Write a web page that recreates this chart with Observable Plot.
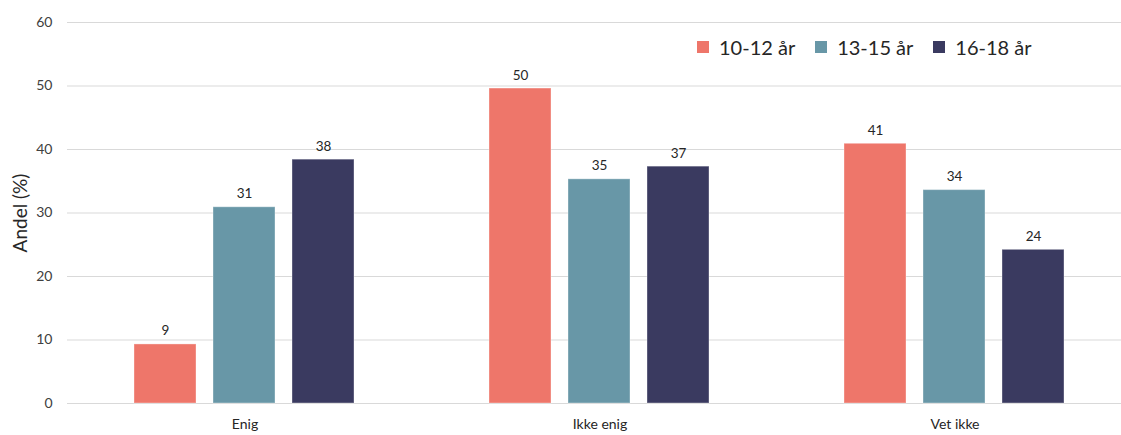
<!DOCTYPE html>
<html>
<head>
<meta charset="utf-8">
<script src="https://cdn.jsdelivr.net/npm/d3@7"></script>
<script src="https://cdn.jsdelivr.net/npm/@observablehq/plot@0.6"></script>
<style>
  html, body { margin: 0; padding: 0; background: #fff; overflow: hidden; }
  #wrap { position: relative; width: 1121px; height: 435px; }
  #legend { position: absolute; left: 697px; top: 30px; }
</style>
</head>
<body>
<div id="wrap"><div id="legend"></div></div>
<script>
const categories = ["Enig", "Ikke enig", "Vet ikke"];
const series = ["10-12 år", "13-15 år", "16-18 år"];
const colors = ["#EE766A", "#6897A7", "#3A3A60"];
const values = {
  "10-12 år": [9.3, 49.6, 40.9],
  "13-15 år": [30.9, 35.3, 33.6],
  "16-18 år": [38.4, 37.3, 24.2]
};
const yTicks = [0, 10, 20, 30, 40, 50, 60];
const yLabel = "Andel (%)";

const data = [];
categories.forEach((c, i) => {
  series.forEach(s => data.push({category: c, series: s, value: values[s][i]}));
});

const font = "Lato, 'Open Sans', sans-serif";

const chart = Plot.plot({
  width: 1121,
  height: 435,
  marginLeft: 67,
  marginRight: 0,
  marginTop: 22,
  marginBottom: 32,
  style: {fontFamily: font, fontSize: "13px", color: "#404040", background: "white", overflow: "hidden"},
  fx: {domain: categories, range: [67, 1132], padding: 0, label: null},
  x: {domain: series, paddingInner: 0.215, paddingOuter: 0.854, axis: null},
  y: {domain: [0, 60], ticks: yTicks, label: null},
  color: {domain: series, range: colors},
  marks: [
    Plot.gridY(yTicks, {stroke: "#d9d9d9", strokeOpacity: 1}),
    Plot.axisY(yTicks, {tickSize: 0, tickPadding: 15, fontSize: 14, fill: "#404040", label: null}),
    Plot.axisFx({anchor: "bottom", tickSize: 0, tickPadding: 16, fontSize: 14, fill: "#262626", label: null}),
    Plot.barY(data, {fx: "category", x: "series", y: "value", fill: "series", stroke: "#ffffff", strokeOpacity: 0.35, strokeWidth: 1}),
    Plot.text(data, {fx: "category", x: "series", y: "value", text: d => d3.format(".0f")(d.value), dy: -9, lineAnchor: "bottom", fontSize: 13.5, fill: "#262626"}),
    Plot.text([yLabel], {facet: "super", frameAnchor: "left", textAnchor: "middle", rotate: -90, dx: -47, fontSize: 19, fill: "#262626"})
  ]
});
document.getElementById("wrap").appendChild(chart);

const legend = Plot.legend({
  color: {domain: series, range: colors},
  swatchSize: 12,
  style: {fontFamily: font, fontSize: "20px", color: "#262626"}
});
document.getElementById("legend").appendChild(legend);
</script>
</body>
</html>
